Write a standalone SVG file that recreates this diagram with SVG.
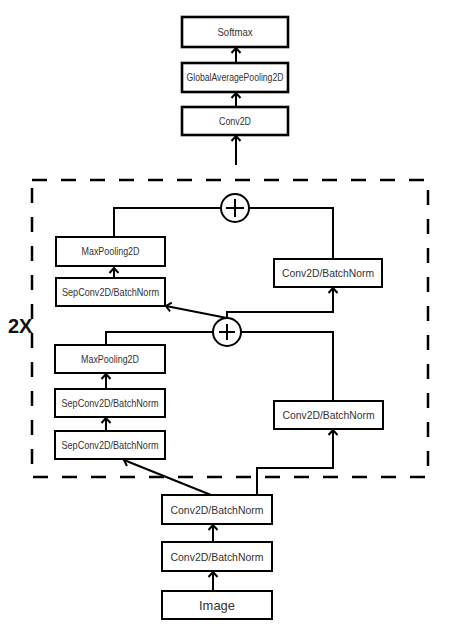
<svg xmlns="http://www.w3.org/2000/svg" width="466" height="638" viewBox="0 0 466 638">
<defs>
<style>
.box{fill:#fff;stroke:#000;stroke-width:2}
.bold{stroke-width:2.6}
.lbl{font-family:"Liberation Sans",Arial,sans-serif;fill:#333;text-anchor:middle}
.ln{fill:none;stroke:#000;stroke-width:2}
.circ{fill:#fff;stroke:#000;stroke-width:2}
</style>
<marker id="ah" markerUnits="userSpaceOnUse" markerWidth="14" markerHeight="14" viewBox="-8 -7 10 14" refX="0" refY="0" orient="auto">
<path d="M-5,-4.5 L0,0 L-5,4.5" fill="none" stroke="#000" stroke-width="2"/>
</marker>
</defs>
<rect width="466" height="638" fill="#fff"/>

<g id="frame">
<rect x="32" y="180" width="396" height="297" fill="none" stroke="#000" stroke-width="2.5" stroke-dasharray="15 14"/>
</g>
<g id="label-2x"><text x="8" y="333" font-family="Liberation Sans,Arial,sans-serif" font-weight="bold" font-size="20" fill="#111">2X</text></g>

<g id="connectors">
<line class="ln" x1="236" y1="63" x2="236" y2="48" marker-end="url(#ah)"/>
<line class="ln" x1="236" y1="107" x2="236" y2="93" marker-end="url(#ah)"/>
<line class="ln" x1="236" y1="165" x2="236" y2="136" stroke-width="3" marker-end="url(#ah)"/>
<polyline class="ln" points="114,237 114,208 221,208"/>
<polyline class="ln" points="249,208 333,208 333,259"/>
<line class="ln" x1="114" y1="278" x2="114" y2="268" marker-end="url(#ah)"/>
<line class="ln" x1="227" y1="318" x2="166" y2="306" marker-end="url(#ah)"/>
<polyline class="ln" points="227,318 227,312 333,312 333,288" marker-end="url(#ah)"/>
<polyline class="ln" points="106,345 106,332 213,332"/>
<polyline class="ln" points="241,332 333,332 333,400"/>
<line class="ln" x1="106" y1="389" x2="106" y2="374" marker-end="url(#ah)"/>
<line class="ln" x1="106" y1="431" x2="106" y2="418" marker-end="url(#ah)"/>
<line class="ln" x1="211" y1="495" x2="124" y2="460" marker-end="url(#ah)"/>
<polyline class="ln" points="257,495 257,468 333,468 333,430" marker-end="url(#ah)"/>
<line class="ln" x1="213" y1="542" x2="213" y2="525" marker-end="url(#ah)"/>
<line class="ln" x1="213" y1="591" x2="213" y2="572" marker-end="url(#ah)"/>
</g>

<g id="softmax"><rect class="box bold" x="182" y="17" width="106" height="30"/><text class="lbl" x="235" y="35.8" font-size="10.5" textLength="35" lengthAdjust="spacingAndGlyphs">Softmax</text></g>
<g id="gap"><rect class="box bold" x="182" y="63" width="106" height="29"/><text class="lbl" x="235" y="81" font-size="10" textLength="97" lengthAdjust="spacingAndGlyphs">GlobalAveragePooling2D</text></g>
<g id="conv2d-top"><rect class="box bold" x="182" y="107" width="106" height="28"/><text class="lbl" x="235" y="125" font-size="11" textLength="32" lengthAdjust="spacingAndGlyphs">Conv2D</text></g>

<g id="add-upper"><circle class="circ" cx="235" cy="208" r="14"/><path d="M235,199 V217 M226,208 H244" stroke="#000" stroke-width="2"/></g>
<g id="maxpool-upper"><rect class="box" x="56" y="237" width="109" height="29"/><text class="lbl" x="110.5" y="255.2" font-size="10" textLength="58" lengthAdjust="spacingAndGlyphs">MaxPooling2D</text></g>
<g id="sepconv-upper"><rect class="box" x="56" y="278" width="109" height="28"/><text class="lbl" x="110.5" y="295.7" font-size="10.2" textLength="97" lengthAdjust="spacingAndGlyphs">SepConv2D/BatchNorm</text></g>
<g id="conv-bn-upper"><rect class="box" x="274" y="259" width="108" height="28"/><text class="lbl" x="328" y="277" font-size="11.3" textLength="92" lengthAdjust="spacingAndGlyphs">Conv2D/BatchNorm</text></g>

<g id="add-lower"><circle class="circ" cx="227" cy="332" r="14"/><path d="M227,324 V340 M219,332 H235" stroke="#000" stroke-width="2"/></g>
<g id="maxpool-lower"><rect class="box" x="55" y="345" width="110" height="28"/><text class="lbl" x="110" y="362.7" font-size="10" textLength="58" lengthAdjust="spacingAndGlyphs">MaxPooling2D</text></g>
<g id="sepconv-lower-1"><rect class="box" x="55" y="389" width="110" height="28"/><text class="lbl" x="110" y="406.7" font-size="10.2" textLength="97" lengthAdjust="spacingAndGlyphs">SepConv2D/BatchNorm</text></g>
<g id="sepconv-lower-2"><rect class="box" x="55" y="431" width="110" height="28"/><text class="lbl" x="110" y="448.7" font-size="10.2" textLength="97" lengthAdjust="spacingAndGlyphs">SepConv2D/BatchNorm</text></g>
<g id="conv-bn-lower"><rect class="box" x="274" y="401" width="109" height="28"/><text class="lbl" x="328.5" y="419" font-size="11.3" textLength="92" lengthAdjust="spacingAndGlyphs">Conv2D/BatchNorm</text></g>

<g id="conv-bn-bottom-2"><rect class="box" x="162" y="495" width="110" height="29"/><text class="lbl" x="217" y="513.6" font-size="11.3" textLength="93" lengthAdjust="spacingAndGlyphs">Conv2D/BatchNorm</text></g>
<g id="conv-bn-bottom-1"><rect class="box" x="162" y="542" width="110" height="29"/><text class="lbl" x="217" y="560.6" font-size="11.3" textLength="93" lengthAdjust="spacingAndGlyphs">Conv2D/BatchNorm</text></g>
<g id="image"><rect class="box" x="162" y="591" width="110" height="28" stroke-width="3"/><text class="lbl" x="217" y="609.8" font-size="13" textLength="36" lengthAdjust="spacingAndGlyphs">Image</text></g>
</svg>
